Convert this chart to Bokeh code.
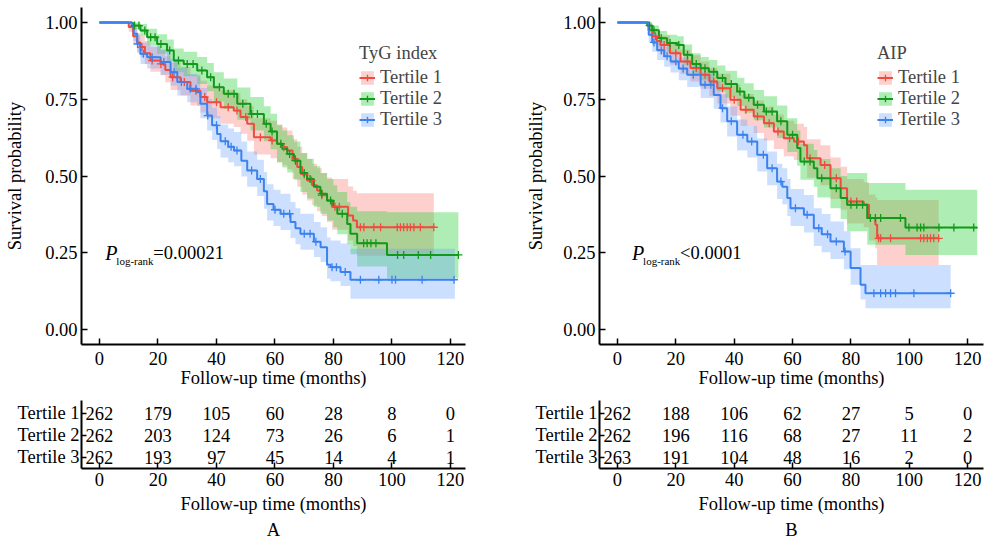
import numpy as np
from bokeh.plotting import figure
from bokeh.layouts import row, column
from bokeh.models import (Range1d, FixedTicker, Legend, LegendItem, Label, Title,
                          ColumnDataSource, NumeralTickFormatter)
from bokeh.embed import file_html
from bokeh.resources import INLINE
from bokeh.core.properties import value

FONT = "Liberation Serif"
FS = "18.5px"

GROUPS = ["Tertile 1", "Tertile 2", "Tertile 3"]
LINE_COLORS = ["#EF4B3E", "#12991A", "#3B82EE"]
BAND_COLORS = ["#F8766D", "#2BD13A", "#619CFF"]
BAND_ALPHA = [0.34, 0.38, 0.32]

# ---------------- Panel A (TyG index) ----------------
A_T1_t = [0, 10.0, 11.5, 12.9, 14.0, 15.5, 17.4, 20.9, 22.5, 24.3, 27.7, 31.1, 34.5, 36.8, 41.4, 45.9, 48.2, 50.5, 52.8, 58.5, 60.7, 62.5, 64.2, 66.0, 67.6, 69.3, 71.0, 72.7, 74.4, 76.0, 77.8, 79.5, 85.0, 86.7, 88.0]
A_T1_s = [1.0, 0.985, 0.955, 0.935, 0.92, 0.90, 0.876, 0.865, 0.845, 0.822, 0.806, 0.778, 0.757, 0.740, 0.724, 0.713, 0.692, 0.670, 0.626, 0.616, 0.605, 0.594, 0.583, 0.555, 0.529, 0.505, 0.485, 0.47, 0.453, 0.437, 0.42, 0.40, 0.371, 0.355, 0.333]
A_T1_hi = [1.0, 1.0, 0.98, 0.965, 0.955, 0.94, 0.92, 0.91, 0.89, 0.87, 0.855, 0.83, 0.81, 0.795, 0.78, 0.77, 0.75, 0.728, 0.688, 0.68, 0.668, 0.658, 0.648, 0.62, 0.595, 0.575, 0.555, 0.54, 0.525, 0.51, 0.495, 0.49, 0.466, 0.452, 0.444]
A_T1_lo = [1.0, 0.97, 0.93, 0.905, 0.888, 0.865, 0.84, 0.828, 0.805, 0.78, 0.762, 0.73, 0.707, 0.688, 0.67, 0.66, 0.638, 0.615, 0.57, 0.558, 0.545, 0.535, 0.522, 0.49, 0.465, 0.44, 0.42, 0.405, 0.385, 0.37, 0.35, 0.325, 0.29, 0.272, 0.24]
A_T1_end = 114.3
A_T1_cens = [14.5, 18, 21, 25, 29, 33, 36, 40, 44, 47, 50, 55, 59, 63, 67, 70, 72.5, 76, 80.5, 82, 89.2, 90.4, 93.8, 96.1, 101.8, 102.9, 104, 105.2, 106.3, 107.5, 109.7, 114.3]

A_T2_t = [0, 11.2, 11.7, 14.0, 16.3, 19.7, 23.1, 25.4, 28.8, 33.4, 36.8, 39.1, 42.5, 47.1, 51.6, 56.2, 58.5, 60.7, 62.5, 64.2, 66.5, 68.7, 71.0, 73.3, 75.5, 77.8, 80.0, 81.3, 84.7, 85.8, 88.1, 98.3]
A_T2_s = [1.0, 0.998, 0.99, 0.974, 0.952, 0.93, 0.909, 0.876, 0.865, 0.844, 0.822, 0.789, 0.768, 0.735, 0.702, 0.670, 0.645, 0.605, 0.588, 0.572, 0.55, 0.51, 0.49, 0.465, 0.442, 0.42, 0.40, 0.377, 0.344, 0.312, 0.281, 0.243]
A_T2_hi = [1.0, 1.0, 1.0, 0.995, 0.98, 0.962, 0.945, 0.915, 0.905, 0.888, 0.868, 0.838, 0.818, 0.788, 0.757, 0.727, 0.703, 0.665, 0.648, 0.633, 0.612, 0.575, 0.556, 0.532, 0.51, 0.49, 0.47, 0.448, 0.415, 0.40, 0.385, 0.382]
A_T2_lo = [1.0, 0.99, 0.978, 0.955, 0.925, 0.898, 0.873, 0.838, 0.825, 0.80, 0.776, 0.742, 0.718, 0.683, 0.648, 0.613, 0.587, 0.545, 0.528, 0.511, 0.488, 0.448, 0.427, 0.40, 0.377, 0.355, 0.333, 0.31, 0.278, 0.245, 0.205, 0.166]
A_T2_end = 122.7
A_T2_cens = [12, 13.5, 15.5, 17.5, 19, 21, 24, 27, 30, 32, 35, 38, 41, 44, 46, 49, 52, 54, 57, 59, 62, 65, 67, 70, 72, 76, 79, 83, 90.3, 91.5, 92.8, 94.5, 101.9, 104, 109, 113.2, 122.7]

A_T3_t = [0, 11.0, 11.7, 12.9, 14.0, 16.3, 20.9, 24.3, 26.6, 30.0, 33.4, 34.5, 36.8, 38.5, 40.2, 41.4, 44.0, 46.0, 48.5, 50.5, 53.9, 56.2, 57.3, 59.5, 61.9, 65.3, 67.0, 68.7, 73.3, 75.6, 77.8, 79.0, 82.4, 85.8]
A_T3_s = [1.0, 0.985, 0.963, 0.93, 0.898, 0.887, 0.871, 0.838, 0.806, 0.784, 0.773, 0.735, 0.697, 0.665, 0.637, 0.613, 0.595, 0.583, 0.55, 0.518, 0.49, 0.45, 0.409, 0.39, 0.377, 0.35, 0.33, 0.312, 0.286, 0.268, 0.211, 0.203, 0.187, 0.162]
A_T3_hi = [1.0, 1.0, 0.985, 0.96, 0.935, 0.925, 0.912, 0.882, 0.853, 0.832, 0.823, 0.787, 0.752, 0.722, 0.695, 0.668, 0.655, 0.643, 0.612, 0.58, 0.553, 0.513, 0.473, 0.455, 0.442, 0.415, 0.395, 0.377, 0.35, 0.333, 0.30, 0.29, 0.28, 0.263]
A_T3_lo = [1.0, 0.97, 0.94, 0.90, 0.865, 0.85, 0.83, 0.795, 0.762, 0.74, 0.728, 0.688, 0.648, 0.617, 0.588, 0.56, 0.545, 0.532, 0.498, 0.465, 0.435, 0.393, 0.355, 0.337, 0.324, 0.298, 0.278, 0.26, 0.236, 0.22, 0.165, 0.157, 0.142, 0.10]
A_T3_end = 121.5
A_T3_cens = [13, 15, 18, 22, 25.5, 28, 31, 33, 37, 40, 43, 45, 47, 52, 55, 60, 63, 65, 70, 72, 74, 79.5, 81, 84, 89.2, 95.5, 100, 101.2, 110.3, 121.2]

# ---------------- Panel B (AIP) ----------------
B_T1_t = [0, 10.7, 11.9, 13.5, 14.7, 18.0, 21.6, 25.0, 28.5, 31.5, 34.2, 38.7, 42.2, 46.7, 50.2, 53.6, 57.0, 60.5, 63.9, 65.0, 69.6, 73.0, 76.5, 78.7, 84.4, 86.2, 88.4, 89.0]
B_T1_s = [1.0, 0.975, 0.955, 0.94, 0.927, 0.90, 0.873, 0.852, 0.83, 0.808, 0.786, 0.748, 0.716, 0.694, 0.672, 0.645, 0.623, 0.612, 0.60, 0.558, 0.536, 0.493, 0.46, 0.417, 0.406, 0.363, 0.341, 0.297]
B_T1_hi = [1.0, 1.0, 0.98, 0.968, 0.958, 0.935, 0.912, 0.893, 0.873, 0.853, 0.833, 0.797, 0.767, 0.746, 0.726, 0.70, 0.68, 0.67, 0.66, 0.62, 0.60, 0.56, 0.53, 0.49, 0.48, 0.44, 0.43, 0.422]
B_T1_lo = [1.0, 0.955, 0.928, 0.91, 0.895, 0.862, 0.832, 0.808, 0.784, 0.76, 0.736, 0.696, 0.663, 0.64, 0.616, 0.588, 0.564, 0.552, 0.538, 0.494, 0.47, 0.425, 0.39, 0.345, 0.333, 0.29, 0.265, 0.21]
B_T1_end = 110.1
B_T1_cens = [13, 16, 20, 24, 27, 30, 33, 36, 40, 44, 48, 52, 55, 59, 62, 66, 71, 75, 80, 82, 89.5, 90.2, 93.6, 103.9, 105, 106.2, 107.3, 108.4, 110.1]

B_T2_t = [0, 10.2, 11.9, 14.2, 17.0, 20.5, 22.7, 25.6, 28.5, 31.3, 34.2, 37.0, 41.0, 43.5, 46.7, 50.2, 54.7, 58.2, 61.6, 62.7, 67.3, 68.5, 73.0, 76.5, 78.7, 85.6, 98.7]
B_T2_s = [1.0, 0.99, 0.975, 0.949, 0.933, 0.927, 0.895, 0.865, 0.851, 0.84, 0.819, 0.80, 0.775, 0.755, 0.732, 0.710, 0.678, 0.634, 0.591, 0.547, 0.525, 0.493, 0.46, 0.428, 0.406, 0.363, 0.332]
B_T2_hi = [1.0, 1.0, 0.99, 0.972, 0.96, 0.955, 0.928, 0.90, 0.888, 0.878, 0.86, 0.843, 0.82, 0.802, 0.78, 0.76, 0.73, 0.688, 0.648, 0.605, 0.585, 0.555, 0.525, 0.50, 0.51, 0.477, 0.455]
B_T2_lo = [1.0, 0.975, 0.955, 0.924, 0.905, 0.897, 0.862, 0.828, 0.812, 0.80, 0.776, 0.755, 0.728, 0.706, 0.682, 0.658, 0.624, 0.578, 0.533, 0.488, 0.465, 0.43, 0.395, 0.36, 0.32, 0.276, 0.243]
B_T2_end = 123.3
B_T2_cens = [11, 12.5, 15, 18, 21, 24, 27, 30, 33, 36, 39, 42, 45, 48, 51, 53, 56, 60, 64, 66, 70, 75, 80, 82, 84, 86.7, 88.4, 90.2, 97, 99.9, 102.7, 103.9, 105, 110.2, 115.3, 122.1]

B_T3_t = [0, 10.7, 11.9, 13.6, 16.0, 18.2, 21.0, 23.9, 28.5, 33.0, 35.3, 37.6, 41.0, 44.5, 47.9, 51.3, 54.7, 56.5, 58.2, 59.3, 63.9, 67.3, 70.0, 73.0, 77.6, 79.9, 83.3, 85.0]
B_T3_s = [1.0, 0.96, 0.935, 0.91, 0.89, 0.873, 0.85, 0.83, 0.797, 0.764, 0.721, 0.678, 0.634, 0.612, 0.569, 0.525, 0.482, 0.465, 0.428, 0.395, 0.374, 0.33, 0.31, 0.287, 0.254, 0.20, 0.146, 0.118]
B_T3_hi = [1.0, 0.985, 0.963, 0.94, 0.922, 0.907, 0.886, 0.868, 0.838, 0.807, 0.766, 0.726, 0.684, 0.663, 0.622, 0.58, 0.54, 0.525, 0.49, 0.458, 0.438, 0.395, 0.376, 0.352, 0.32, 0.265, 0.21, 0.21]
B_T3_lo = [1.0, 0.935, 0.905, 0.878, 0.856, 0.837, 0.812, 0.79, 0.754, 0.719, 0.674, 0.629, 0.583, 0.56, 0.515, 0.47, 0.425, 0.408, 0.37, 0.337, 0.316, 0.272, 0.252, 0.23, 0.196, 0.146, 0.098, 0.069]
B_T3_end = 114.2
B_T3_cens = [12.5, 15, 17, 20, 22.5, 26, 30, 32, 36, 39, 43, 46, 50, 53, 56, 61, 65, 69, 72, 75, 78, 87.9, 90.2, 91.9, 93.6, 95.3, 101.6, 114.2]

# ---------------- Numbers at risk ----------------
RISK_TIMES = [0, 20, 40, 60, 80, 100, 120]
A_RISK_T1 = [262, 179, 105, 60, 28, 8, 0]
A_RISK_T2 = [262, 203, 124, 73, 26, 6, 1]
A_RISK_T3 = [262, 193, 97, 45, 14, 4, 1]
B_RISK_T1 = [262, 188, 106, 62, 27, 5, 0]
B_RISK_T2 = [262, 196, 116, 68, 27, 11, 2]
B_RISK_T3 = [263, 191, 104, 48, 16, 2, 0]

X_TICKS = [0, 20, 40, 60, 80, 100, 120]
Y_TICKS = [0, 0.25, 0.5, 0.75, 1.0]
X_LABEL = "Follow-up time (months)"
Y_LABEL = "Survival probability"

FRAME_W = 384


def style(p):
    p.grid.visible = False
    p.outline_line_color = None
    p.background_fill_color = "white"
    p.border_fill_color = "white"
    for ax in p.axis:
        ax.axis_line_width = 2
        ax.axis_line_color = "black"
        ax.major_tick_in = 6
        ax.major_tick_out = 0
        ax.major_tick_line_width = 1.5
        ax.major_tick_line_color = "black"
        ax.minor_tick_line_color = None
        ax.major_label_text_font = FONT
        ax.major_label_text_font_size = FS
        ax.major_label_text_color = "black"
        ax.axis_label_text_font = FONT
        ax.axis_label_text_font_size = FS
        ax.axis_label_text_font_style = "normal"
        ax.axis_label_text_color = "black"


def step_at(t, s, c):
    t = np.asarray(t)
    s = np.asarray(s)
    idx = np.searchsorted(t, np.asarray(c), side="right") - 1
    return s[idx]


def km_panel(curves, xr, bl, br, ylab_standoff, legend_title, p_x, p_text):
    p = figure(width=bl + FRAME_W + br, height=394,
               x_range=Range1d(*xr), y_range=Range1d(-0.0489, 1.0489),
               output_backend="svg", toolbar_location=None,
               min_border_left=bl, min_border_right=br,
               min_border_top=7, min_border_bottom=50)
    band_r, line_r, cross_r = [], [], []
    for i, (t, s, lo, hi, end, cens) in enumerate(curves):
        x = list(t) + [end]
        b = p.varea_step(x=x, y1=list(lo) + [lo[-1]], y2=list(hi) + [hi[-1]],
                         step_mode="after", fill_color=BAND_COLORS[i],
                         fill_alpha=BAND_ALPHA[i])
        band_r.append(b)
    for i, (t, s, lo, hi, end, cens) in enumerate(curves):
        x = list(t) + [end]
        l = p.step(x=x, y=list(s) + [s[-1]], mode="after",
                   line_color=LINE_COLORS[i], line_width=2)
        line_r.append(l)
    for i, (t, s, lo, hi, end, cens) in enumerate(curves):
        cy = step_at(t, s, cens)
        c = p.scatter(x=cens, y=cy, marker="cross", size=8,
                      line_color=LINE_COLORS[i], line_width=1.3)
        cross_r.append(c)
    items = [LegendItem(label=GROUPS[i], renderers=[band_r[i], line_r[i], cross_r[i]])
             for i in range(3)]
    leg = Legend(items=items, location=(278, 214), title=legend_title,
                 title_text_font=FONT, title_text_font_size=FS,
                 title_text_font_style="normal", title_standoff=3,
                 label_text_font=FONT, label_text_font_size=FS,
                 label_text_line_height=0.85,
                 glyph_width=16, glyph_height=17, label_height=17,
                 spacing=0, padding=0, margin=0, label_standoff=5,
                 border_line_color=None, background_fill_alpha=0)
    p.add_layout(leg)
    p.xaxis.ticker = FixedTicker(ticks=X_TICKS)
    p.yaxis.ticker = FixedTicker(ticks=Y_TICKS)
    p.yaxis.formatter = NumeralTickFormatter(format="0.00")
    p.xaxis.axis_label = X_LABEL
    p.yaxis.axis_label = Y_LABEL
    style(p)
    p.xaxis.major_label_standoff = 7
    p.xaxis.axis_label_standoff = 0
    p.yaxis.major_label_standoff = 4
    p.yaxis.axis_label_standoff = ylab_standoff
    p.add_layout(Label(x=p_x, y=0.25, text="P", text_font=FONT,
                       text_font_style="italic", text_font_size="20px",
                       text_baseline="middle", text_color="black"))
    p.add_layout(Label(x=p_x, y=0.222, x_offset=11, text="log-rank", text_font=FONT,
                       text_font_size="11px", text_baseline="middle",
                       text_color="black"))
    p.add_layout(Label(x=p_x, y=0.25, x_offset=48, text=p_text, text_font=FONT,
                       text_font_size=FS, text_baseline="middle",
                       text_color="black"))
    return p


def risk_panel(risks, xr, bl, br, panel_letter):
    p = figure(width=bl + FRAME_W + br, height=148,
               x_range=Range1d(*xr), y_range=Range1d(0.5, 3.59),
               output_backend="svg", toolbar_location=None,
               min_border_left=bl, min_border_right=br,
               min_border_top=6, min_border_bottom=74)
    xs, ys, txt = [], [], []
    for i, vals in enumerate(risks):
        for tt, v in zip(RISK_TIMES, vals):
            xs.append(tt)
            ys.append(3 - i)
            txt.append(str(v))
    src = ColumnDataSource(dict(x=xs, y=ys, text=txt))
    p.text(x="x", y="y", text="text", source=src, text_font=value(FONT),
           text_font_size=value(FS), text_align="center",
           text_baseline="middle", text_color="black")
    p.xaxis.ticker = FixedTicker(ticks=X_TICKS)
    p.yaxis.ticker = FixedTicker(ticks=[1, 2, 3])
    p.yaxis.major_label_overrides = {3: GROUPS[0], 2: GROUPS[1], 1: GROUPS[2]}
    p.xaxis.axis_label = X_LABEL
    style(p)
    p.yaxis.major_tick_in = 5
    p.xaxis.major_label_standoff = 4
    p.xaxis.axis_label_standoff = 5
    p.yaxis.major_label_standoff = 2
    p.add_layout(Title(text=panel_letter, align="center", text_font=FONT,
                       text_font_size=FS, text_font_style="normal",
                       text_color="black", standoff=2), "below")
    return p


A_curves = [(A_T1_t, A_T1_s, A_T1_lo, A_T1_hi, A_T1_end, A_T1_cens),
            (A_T2_t, A_T2_s, A_T2_lo, A_T2_hi, A_T2_end, A_T2_cens),
            (A_T3_t, A_T3_s, A_T3_lo, A_T3_hi, A_T3_end, A_T3_cens)]
B_curves = [(B_T1_t, B_T1_s, B_T1_lo, B_T1_hi, B_T1_end, B_T1_cens),
            (B_T2_t, B_T2_s, B_T2_lo, B_T2_hi, B_T2_end, B_T2_cens),
            (B_T3_t, B_T3_s, B_T3_lo, B_T3_hi, B_T3_end, B_T3_cens)]

XR_A = (-6.15, 125.13)
XR_B = (-6.17, 125.46)

kmA = km_panel(A_curves, XR_A, 81, 30, 17, "TyG index", 2.0, "=0.00021")
kmB = km_panel(B_curves, XR_B, 104, 3, 14, "AIP", 5.0, "<0.0001")
rkA = risk_panel([A_RISK_T1, A_RISK_T2, A_RISK_T3], XR_A, 81, 30, "A")
rkB = risk_panel([B_RISK_T1, B_RISK_T2, B_RISK_T3], XR_B, 104, 3, "B")

layout = row(column(kmA, rkA), column(kmB, rkB))
open("out.html", "w").write(file_html(layout, INLINE))
